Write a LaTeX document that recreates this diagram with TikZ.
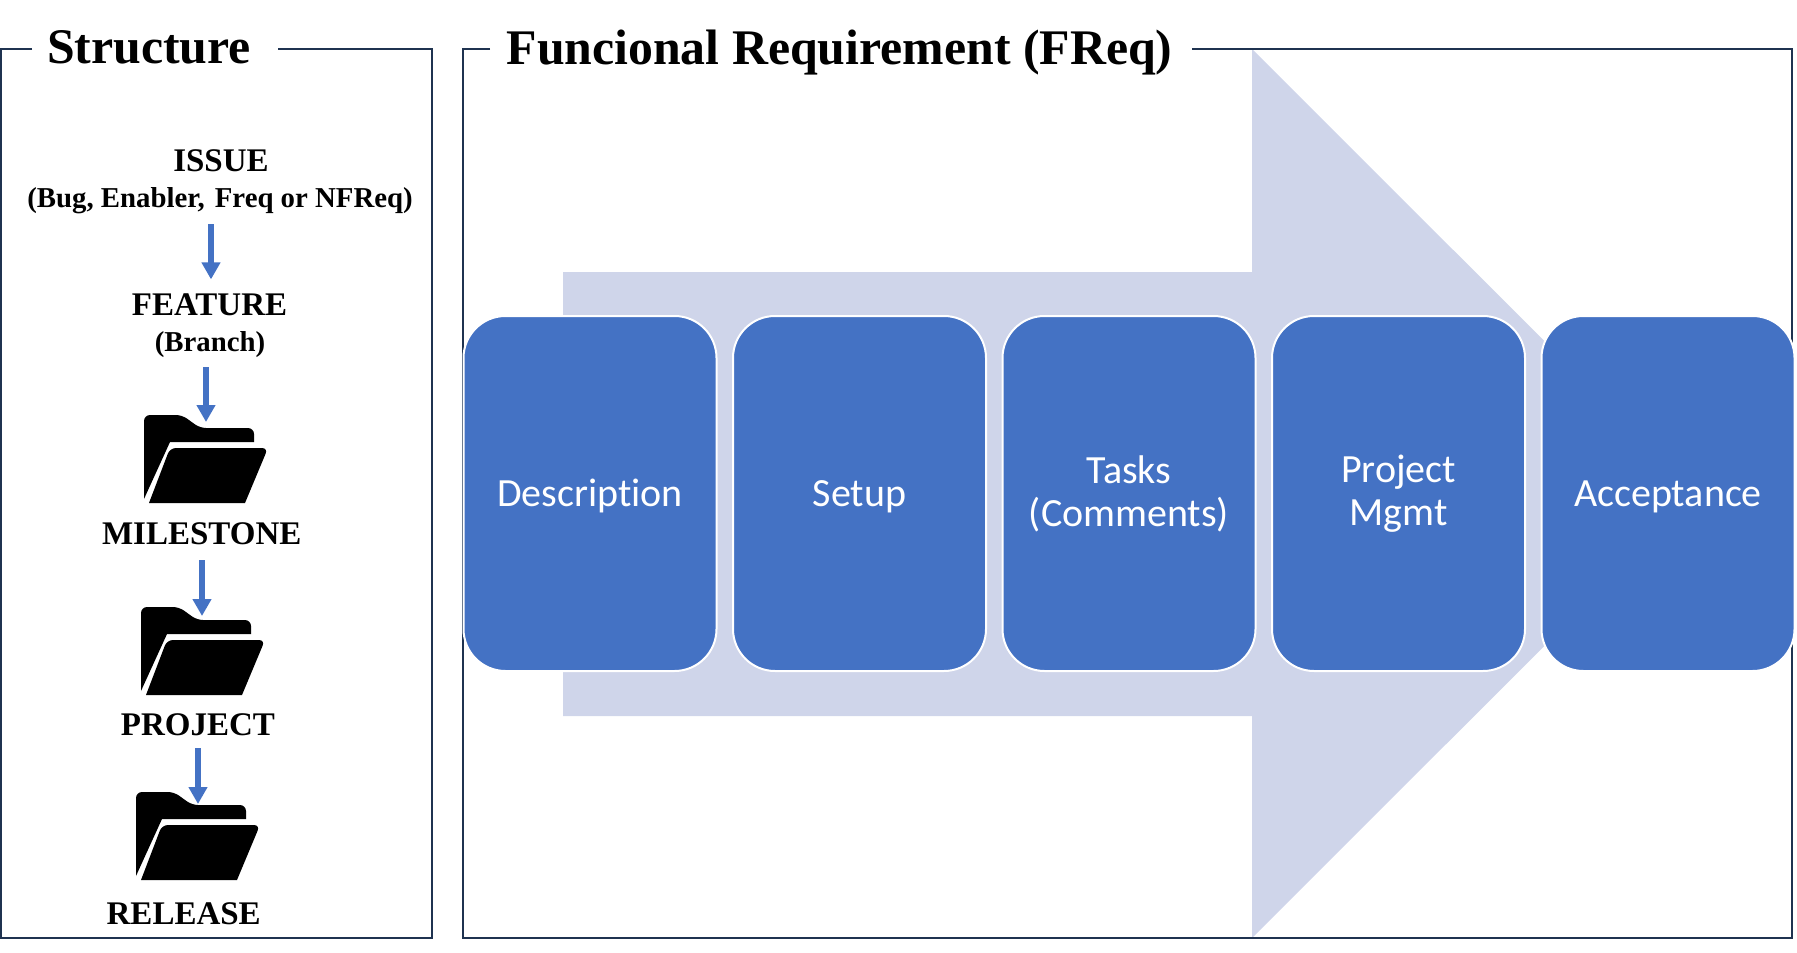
\documentclass[tikz,border=0pt]{standalone}
\usepackage{fontspec}
\setmainfont{Liberation Serif}
\newfontfamily\boxfont[Ligatures=NoCommon]{Carlito}
\usetikzlibrary{arrows.meta}
\definecolor{navy}{HTML}{1F3350}
\definecolor{boxblue}{HTML}{4472C4}
\definecolor{paleblue}{HTML}{CFD5EA}
\tikzset{
    main/.style = {draw=white, line width=1pt, fill=boxblue, text=white, rounded corners=21pt,
        minimum width=126.5pt, minimum height=177.5pt, align=center, font=\boxfont\fontsize{20}{21.5}\selectfont},
    single/.style = {text height=16.4pt},
    frame/.style = {draw=navy, line width=1pt},
    title/.style = {anchor=base, inner sep=0pt, font=\bfseries\fontsize{24.9}{26}\selectfont},
    head/.style = {anchor=base, inner sep=0pt, text height=18pt, text depth=8pt, font=\bfseries\fontsize{16.5}{18}\selectfont},
    sub/.style = {anchor=base, inner sep=0pt, text depth=8pt, font=\bfseries\fontsize{14.4}{16}\selectfont},
    flow/.style = {draw=boxblue, line width=3pt, -{Triangle[length=8.5pt,width=9pt]}},
    folder/.pic = {
        \fill[rounded corners=3pt] (0,84) -- (0,0) -- (38,0) -- (56,13) -- (110,13) [sharp corners] -- (110,27) -- (26,27) -- cycle;
        \fill[rounded corners=3pt] (5,88) -- (26,33) -- (124,33) [sharp corners] -- (101,88) -- cycle;
    }
}
\begin{document}
\begin{tikzpicture}[x=0.5pt, y=-0.5pt, node distance=134.75pt]
    \useasboundingbox (0,0) rectangle (1797,952);

    \fill[paleblue] (563,272) -- (1252,272) -- (1252,49) -- (1697,493.5) -- (1252,938) -- (1252,716) -- (563,716) -- cycle;

    \draw[frame] (32,49) -- (1,49) -- (1,938) -- (432,938) -- (432,49) -- (278,49);
    \draw[frame] (490,49) -- (463,49) -- (463,938) -- (1792,938) -- (1792,49) -- (1192,49);

    \node[title] (structure) at (149,64) {Structure};
    \node[title] (freq) at (839.5,65) {Funcional Requirement (FReq)};

    \node[main, single] (1) at (590,493.5) {Description};
    \node[main, single] (2) [right of=1] {Setup};
    \node[main] (3) [right of=2] {Tasks\\(Comments)};
    \node[main] (4) [right of=3] {Project\\Mgmt};
    \node[main, single] (5) [right of=4] {Acceptance};

    \node[head] (issue) at (221,172) {ISSUE};
    \node[sub] (kinds) at (220,208) {(Bug, Enabler,\hspace{1.5pt} Freq or NFReq)};
    \node[head] (feature) at (209.5,315) {FEATURE};
    \node[sub] (branch) at (210,351) {(Branch)};
    \node[head] (milestone) at (201.7,544) {MILESTONE};
    \node[head, text depth=6.5pt] (project) at (198,735) {PROJECT};
    \node[head] (release) at (183.7,924) {RELEASE};

    \pic at (144,415) {folder};
    \pic at (141,607) {folder};
    \pic at (136,792) {folder};

    \coordinate (top1) at (206,422);
    \coordinate (top2) at (202,616);
    \coordinate (top3) at (198,804);

    \draw[flow] (kinds.south -| feature.north) ++(1.5,0) -- ++(0,55);
    \draw[flow] (branch.south -| top1) -- (top1);
    \draw[flow] (milestone.south -| top2) -- (top2);
    \draw[flow] (project.south -| top3) -- (top3);
\end{tikzpicture}
\end{document}
